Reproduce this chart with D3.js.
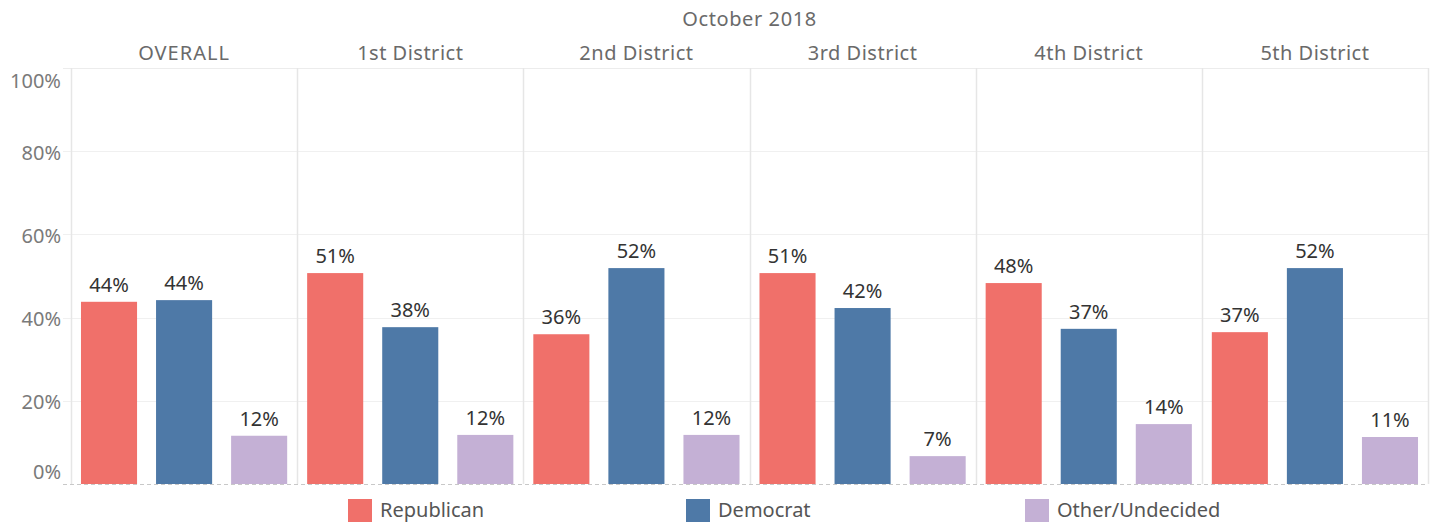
<!DOCTYPE html>
<html>
<head>
<meta charset="utf-8">
<script src="https://cdn.jsdelivr.net/npm/d3@7"></script>
<style>
  html, body { margin: 0; padding: 0; background: #fff; }
  svg { display: block; font-family: "Noto Sans", "Open Sans", sans-serif; }
</style>
</head>
<body>
<svg id="chart" width="1432" height="522"></svg>
<script>
// Poll results, October 2018
const title = "October 2018";
const districts = ["OVERALL", "1st District", "2nd District", "3rd District", "4th District", "5th District"];
const parties = ["Republican", "Democrat", "Other/Undecided"];
const partyColors = ["#f0706a", "#4e79a7", "#c4b0d5"];
const republican = [0.438, 0.507, 0.360, 0.507, 0.483, 0.365];
const democrat   = [0.442, 0.377, 0.519, 0.423, 0.373, 0.519];
const other      = [0.116, 0.118, 0.118, 0.067, 0.144, 0.113];
const yTicks = [0, 0.2, 0.4, 0.6, 0.8, 1.0];

const seriesByParty = [republican, democrat, other];
const rows = [];
districts.forEach((d, i) => {
  parties.forEach((p, j) => rows.push({ district: d, party: p, value: seriesByParty[j][i] }));
});

const svg = d3.select("#chart");
const plotLeft = 71, plotRight = 1428, plotTop = 68, plotBottom = 484;

const x0 = d3.scaleBand().domain(districts).range([plotLeft, plotRight]).padding(0);
const x1 = d3.scaleBand().domain(parties).range([0, x0.bandwidth()])
  .paddingInner(0.253).paddingOuter(0.133);
const y = d3.scaleLinear().domain([0, 1]).range([plotBottom, plotTop]);
const color = d3.scaleOrdinal().domain(parties).range(partyColors);
const pct = d3.format(".0%");

// horizontal gridlines
svg.append("g").selectAll("line")
  .data(yTicks.filter(t => t > 0))
  .join("line")
  .attr("x1", plotLeft - 8).attr("x2", plotRight)
  .attr("y1", d => Math.round(y(d)) + 0.5).attr("y2", d => Math.round(y(d)) + 0.5)
  .attr("stroke", d => d === 1 ? "#ececec" : "#f0f0f0")
  .attr("stroke-width", 1.2);

// panel dividers
svg.append("g").selectAll("line")
  .data(districts.map(d => x0(d)).concat([plotRight]))
  .join("line")
  .attr("x1", d => Math.round(d) + 0.5).attr("x2", d => Math.round(d) + 0.5)
  .attr("y1", plotTop).attr("y2", plotBottom)
  .attr("stroke", "#e6e6e6")
  .attr("stroke-width", 1.5);

// y axis labels
const yAxis = svg.append("g")
  .attr("transform", `translate(${plotLeft - 10},0)`)
  .call(d3.axisLeft(y).tickValues(yTicks).tickFormat(pct).tickSize(0).tickPadding(0));
yAxis.select(".domain").remove();
yAxis.selectAll("text")
  .attr("font-size", 20)
  .attr("fill", "#7a7a7a")
  .attr("font-family", "'Noto Sans', 'Open Sans', sans-serif")
  .attr("dy", d => d === 1 ? "0.95em" : d === 0 ? "-0.3em" : "0.4em");

// bars
const panels = svg.append("g").selectAll("g")
  .data(districts)
  .join("g")
  .attr("transform", d => `translate(${x0(d)},0)`);

panels.selectAll("rect")
  .data(d => rows.filter(r => r.district === d))
  .join("rect")
  .attr("x", r => x1(r.party))
  .attr("width", x1.bandwidth())
  .attr("y", r => y(r.value))
  .attr("height", r => y(0) - y(r.value))
  .attr("fill", r => color(r.party));

panels.selectAll("text.value")
  .data(d => rows.filter(r => r.district === d))
  .join("text")
  .attr("class", "value")
  .attr("x", r => x1(r.party) + x1.bandwidth() / 2)
  .attr("y", r => y(r.value) - 10)
  .attr("text-anchor", "middle")
  .attr("font-size", 20)
  .attr("fill", "#333")
  .text(r => pct(r.value));

// dashed zero line
svg.append("line")
  .attr("x1", plotLeft - 8).attr("x2", plotRight)
  .attr("y1", plotBottom + 0.5).attr("y2", plotBottom + 0.5)
  .attr("stroke", "#c8c8c8")
  .attr("stroke-dasharray", "4,3")
  .attr("stroke-width", 1);

// column headers
svg.append("text")
  .attr("x", (plotLeft + plotRight) / 2).attr("y", 26)
  .attr("text-anchor", "middle")
  .attr("font-size", 20).attr("fill", "#6a6a6a")
  .attr("letter-spacing", 0.6)
  .text(title);

svg.append("g").selectAll("text")
  .data(districts)
  .join("text")
  .attr("x", d => x0(d) + x0.bandwidth() / 2)
  .attr("y", 60)
  .attr("text-anchor", "middle")
  .attr("font-size", 20).attr("fill", "#6a6a6a")
  .attr("letter-spacing", d => d === "OVERALL" ? 1 : 0.5)
  .text(d => d);

// legend
const legendX = [348, 686, 1025];
const legend = svg.append("g").selectAll("g")
  .data(parties)
  .join("g")
  .attr("transform", (d, i) => `translate(${legendX[i]},499)`);
legend.append("rect")
  .attr("width", 24).attr("height", 23)
  .attr("fill", d => color(d));
legend.append("text")
  .attr("x", 32).attr("y", 18)
  .attr("font-size", 20).attr("fill", "#555")
  .text(d => d);
</script>
</body>
</html>
